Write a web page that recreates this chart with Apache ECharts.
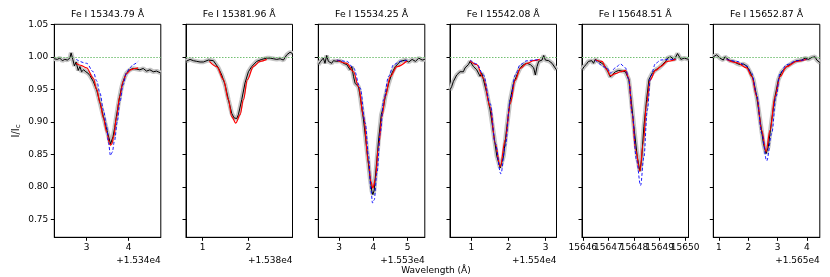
<!DOCTYPE html>
<html>
<head>
<meta charset="utf-8">
<script src="https://cdn.jsdelivr.net/npm/echarts@6/dist/echarts.min.js"></script>
<style>html,body{margin:0;padding:0;background:#fff}#c{width:830px;height:277px}</style>
</head>
<body>
<div id="c"></div>
<script>
const titles = ['Fe I 15343.79 Å','Fe I 15381.96 Å','Fe I 15534.25 Å','Fe I 15542.08 Å','Fe I 15648.51 Å','Fe I 15652.87 Å'];
const offsets = [15340, 15380, 15530, 15540, 15640, 15650];
const offsetTexts = ['+1.534e4','+1.538e4','+1.553e4','+1.554e4','','+1.565e4'];
const showOffsetInLabel = [false,false,false,false,true,false];
const xMins = [2.229, 0.634, 2.395, 0.424, 5.97, 0.806];
const xMaxs = [4.77, 2.965, 5.497, 3.29, 10.13, 4.445];
const xTicks = [[3,4],[1,2],[3,4,5],[1,2,3],[6,7,8,9,10],[1,2,3,4]];
const yTicks = [0.75,0.80,0.85,0.90,0.95,1.00,1.05];
const yMin = 0.7223, yMax = 1.05;

const obs1 = [[2.23,0.997],[2.30,0.996],[2.36,0.998],[2.42,0.994],[2.48,0.996],[2.54,0.995],[2.60,0.998],[2.63,1.006],[2.67,0.996],[2.71,0.986],[2.75,0.992],[2.80,0.979],[2.84,0.985],[2.88,0.977],[2.93,0.980],[2.98,0.977],[3.03,0.975],[3.08,0.971],[3.16,0.962],[3.24,0.949],[3.32,0.929],[3.40,0.908],[3.48,0.888],[3.53,0.876],[3.57,0.866],[3.60,0.869],[3.63,0.877],[3.67,0.891],[3.71,0.908],[3.75,0.924],[3.79,0.939],[3.83,0.952],[3.87,0.962],[3.91,0.969],[3.95,0.975],[4.03,0.980],[4.11,0.982],[4.19,0.981],[4.27,0.980],[4.35,0.982],[4.43,0.978],[4.51,0.980],[4.59,0.977],[4.67,0.978],[4.77,0.975]];
const red1 = [[2.75,0.990],[2.85,0.987],[3.00,0.983],[3.16,0.967],[3.24,0.950],[3.32,0.929],[3.40,0.906],[3.48,0.884],[3.55,0.866],[3.57,0.864],[3.60,0.866],[3.65,0.878],[3.71,0.906],[3.79,0.939],[3.87,0.962],[3.95,0.974],[4.05,0.980],[4.15,0.982],[4.23,0.983]];
const blue1 = [[2.75,0.996],[3.00,0.990],[3.16,0.977],[3.24,0.963],[3.32,0.944],[3.40,0.918],[3.48,0.893],[3.52,0.868],[3.57,0.848],[3.61,0.853],[3.67,0.872],[3.73,0.900],[3.79,0.929],[3.87,0.957],[3.95,0.975],[4.03,0.983],[4.11,0.988],[4.23,0.993]];

const obs2 = [[0.635,0.993],[0.723,0.996],[0.796,0.994],[0.869,0.993],[0.942,0.992],[1.015,0.992],[1.124,0.995],[1.161,0.992],[1.234,0.994],[1.270,0.991],[1.343,0.983],[1.416,0.972],[1.489,0.957],[1.562,0.934],[1.635,0.913],[1.686,0.906],[1.745,0.905],[1.781,0.911],[1.854,0.934],[1.927,0.960],[2.000,0.977],[2.073,0.985],[2.182,0.993],[2.292,0.996],[2.401,0.998],[2.474,0.998],[2.547,0.997],[2.620,0.996],[2.693,0.997],[2.766,0.995],[2.839,1.003],[2.912,1.007],[2.964,1.005]];
const red2 = [[1.146,0.993],[1.307,0.985],[1.453,0.965],[1.562,0.934],[1.635,0.908],[1.723,0.898],[1.818,0.911],[1.891,0.934],[1.978,0.965],[2.109,0.985],[2.255,0.993],[2.401,0.996]];
const blue2 = [];

const obs3 = [[2.395,0.988],[2.463,0.993],[2.541,0.998],[2.590,0.990],[2.639,1.002],[2.688,0.993],[2.737,0.996],[2.785,0.990],[2.834,0.994],[2.932,0.993],[3.029,0.994],[3.127,0.990],[3.224,0.988],[3.322,0.980],[3.371,0.985],[3.420,0.970],[3.468,0.959],[3.517,0.962],[3.566,0.954],[3.615,0.939],[3.712,0.903],[3.810,0.857],[3.907,0.811],[3.956,0.793],[3.985,0.788],[4.024,0.795],[4.083,0.831],[4.151,0.872],[4.229,0.911],[4.298,0.924],[4.346,0.939],[4.444,0.959],[4.541,0.975],[4.639,0.985],[4.785,0.993],[4.932,0.995],[5.029,0.992],[5.127,0.996],[5.224,0.993],[5.322,0.998],[5.420,0.995],[5.498,0.996]];
const red3 = [[2.932,0.995],[3.224,0.990],[3.420,0.977],[3.566,0.954],[3.712,0.908],[3.859,0.836],[3.927,0.808],[3.985,0.798],[4.054,0.811],[4.151,0.862],[4.249,0.908],[4.346,0.939],[4.493,0.970],[4.688,0.985],[4.980,0.994]];
const blue3 = [[2.932,0.995],[3.224,0.993],[3.420,0.983],[3.615,0.952],[3.761,0.898],[3.859,0.847],[3.927,0.795],[3.976,0.775],[4.024,0.780],[4.102,0.821],[4.200,0.883],[4.298,0.934],[4.444,0.970],[4.590,0.988],[4.785,0.993],[4.980,0.995]];

const obs4 = [[0.423,0.949],[0.468,0.954],[0.514,0.962],[0.604,0.972],[0.694,0.977],[0.739,0.980],[0.784,0.977],[0.829,0.983],[0.874,0.980],[0.919,0.988],[0.964,0.993],[1.009,0.990],[1.054,0.985],[1.099,0.988],[1.144,0.980],[1.189,0.983],[1.234,0.970],[1.279,0.975],[1.324,0.965],[1.414,0.944],[1.505,0.918],[1.595,0.883],[1.685,0.847],[1.775,0.829],[1.820,0.831],[1.865,0.847],[1.955,0.893],[2.045,0.934],[2.135,0.959],[2.225,0.972],[2.315,0.983],[2.405,0.988],[2.495,0.990],[2.586,0.988],[2.676,0.983],[2.721,0.972],[2.766,0.985],[2.811,0.993],[2.901,0.995],[2.946,1.002],[2.991,0.995],[3.081,0.994],[3.171,0.990],[3.288,0.980]];
const red4 = [[0.964,0.994],[1.144,0.988],[1.324,0.967],[1.505,0.923],[1.640,0.867],[1.775,0.831],[1.910,0.872],[2.045,0.928],[2.180,0.964],[2.315,0.982],[2.495,0.990],[2.676,0.994],[2.838,0.996]];
const blue4 = [[0.964,0.995],[1.144,0.989],[1.324,0.972],[1.505,0.928],[1.640,0.867],[1.793,0.820],[1.910,0.862],[2.045,0.934],[2.180,0.972],[2.315,0.988],[2.495,0.994],[2.676,0.995],[2.838,0.996]];

const obs5 = [[5.974,0.980],[6.052,0.985],[6.131,0.988],[6.223,0.993],[6.289,0.990],[6.354,0.994],[6.420,0.990],[6.486,0.996],[6.551,0.995],[6.617,0.993],[6.748,0.990],[6.879,0.985],[7.010,0.975],[7.076,0.969],[7.142,0.972],[7.273,0.977],[7.404,0.979],[7.535,0.978],[7.667,0.977],[7.798,0.965],[7.890,0.934],[7.995,0.893],[8.126,0.847],[8.231,0.824],[8.297,0.842],[8.388,0.893],[8.493,0.934],[8.585,0.965],[8.717,0.975],[8.848,0.980],[8.979,0.983],[9.110,0.988],[9.241,0.993],[9.307,0.998],[9.438,1.000],[9.570,0.995],[9.701,1.005],[9.832,0.996],[9.963,0.998],[10.134,0.996]];
const red5 = [[6.486,0.995],[6.748,0.993],[6.945,0.980],[7.076,0.971],[7.273,0.974],[7.470,0.977],[7.667,0.979],[7.798,0.967],[7.929,0.913],[8.060,0.857],[8.231,0.824],[8.362,0.867],[8.493,0.928],[8.625,0.964],[8.848,0.979],[9.045,0.985],[9.307,0.993],[9.635,0.996]];
const blue5 = [[6.486,0.995],[6.945,0.983],[7.076,0.975],[7.273,0.983],[7.470,0.989],[7.667,0.983],[7.798,0.965],[7.929,0.913],[8.100,0.841],[8.257,0.802],[8.388,0.846],[8.520,0.918],[8.651,0.970],[8.848,0.990],[9.045,0.995],[9.307,0.996],[9.635,0.996]];

const obs6 = [[0.806,1.000],[0.920,1.003],[1.034,0.998],[1.091,0.996],[1.148,0.995],[1.205,1.000],[1.262,0.998],[1.376,0.994],[1.490,0.993],[1.604,0.990],[1.718,0.988],[1.832,0.989],[1.946,0.986],[2.003,0.983],[2.060,0.977],[2.174,0.965],[2.288,0.939],[2.403,0.903],[2.517,0.867],[2.608,0.851],[2.688,0.862],[2.802,0.903],[2.916,0.939],[3.030,0.965],[3.144,0.977],[3.315,0.985],[3.486,0.990],[3.657,0.994],[3.828,0.995],[3.942,0.998],[4.056,0.996],[4.170,0.999],[4.284,1.000],[4.341,0.995],[4.455,0.991]];
const red6 = [[1.262,0.996],[1.604,0.991],[1.946,0.983],[2.117,0.970],[2.288,0.939],[2.460,0.887],[2.608,0.854],[2.745,0.887],[2.916,0.939],[3.087,0.970],[3.315,0.985],[3.657,0.993],[3.999,0.996]];
const blue6 = [[1.262,0.996],[1.604,0.993],[1.946,0.986],[2.117,0.975],[2.288,0.942],[2.460,0.882],[2.631,0.840],[2.802,0.882],[2.950,0.939],[3.087,0.975],[3.315,0.988],[3.657,0.994],[3.999,0.996]];

const obsAll = [obs1, obs2, obs3, obs4, obs5, obs6];
const redAll = [red1, red2, red3, red4, red5, red6];
const blueAll = [blue1, blue2, blue3, blue4, blue5, blue6];

const FONT = 'DejaVu Sans';
const gridLefts = [54.3, 186, 318.3, 450, 582, 713.3];
const gridW = 106.5, gridTop = 24.3, gridH = 213;

function xLabel(i, ticks, showLine) {
  const off = offsets[i];
  const lab = showOffsetInLabel[i];
  return {
    type: 'value', gridIndex: i, min: xMins[i], max: xMaxs[i], position: 'bottom', offset: 0,
    axisLine: {show: showLine, onZero: false, lineStyle: {color: '#000', width: 1}},
    axisTick: {show: showLine, length: 3.5, lineStyle: {color: '#000'}, customValues: xTicks[i]},
    axisLabel: {show: true, color: '#000', fontFamily: FONT, fontSize: 9, margin: 6, customValues: ticks,
      hideOverlap: false, showMinLabel: true, showMaxLabel: true,
      formatter: v => lab ? String(Math.round(v + off)) : String(Math.round(v))},
    splitLine: {show: false}
  };
}

const grids = [], xAxes = [], yAxes = [], series = [], graphics = [];
for (let i = 0; i < 6; i++) {
  grids.push({left: gridLefts[i], top: gridTop, width: gridW, height: gridH, show: true, borderColor: '#000', borderWidth: 1, containLabel: false});
  // labels that would overlap are split between two axes so every tick keeps its label
  xAxes.push(xLabel(i, xTicks[i].filter((t, k) => k % 2 === 0), true));
  yAxes.push({
    type: 'value', gridIndex: i, min: yMin, max: yMax,
    axisLine: {show: true, onZero: false, lineStyle: {color: '#000', width: 1}},
    axisTick: {show: true, length: 3.5, lineStyle: {color: '#000'}, customValues: yTicks},
    axisLabel: {show: i === 0, color: '#000', fontFamily: FONT, fontSize: 9, margin: 6, customValues: yTicks,
      showMinLabel: true, showMaxLabel: true, formatter: v => v.toFixed(2)},
    splitLine: {show: false}
  });
  series.push({
    type: 'line', xAxisIndex: i, yAxisIndex: i, data: obsAll[i], symbol: 'none', z: 1,
    lineStyle: {color: '#c4c4c4', width: 4.5},
    markLine: {silent: true, symbol: 'none', label: {show: false}, animation: false,
      lineStyle: {color: '#72c072', type: [1.5, 1.5], width: 1.1}, data: [{yAxis: 1}]}
  });
  series.push({
    type: 'line', xAxisIndex: i, yAxisIndex: i, data: obsAll[i], symbol: 'none', z: 2,
    lineStyle: {color: '#000', width: 1}
  });
  series.push({
    type: 'line', xAxisIndex: i, yAxisIndex: i, data: redAll[i], symbol: 'none', z: 3,
    smooth: 0.35, smoothMonotone: 'x',
    lineStyle: {color: '#ff0000', width: 1.2}
  });
  if (blueAll[i].length) {
    series.push({
      type: 'line', xAxisIndex: i, yAxisIndex: i, data: blueAll[i], symbol: 'none', z: 4,
      smooth: 0.35, smoothMonotone: 'x',
      lineStyle: {color: '#0000ff', width: 0.9, type: [3, 2]}
    });
  }
  graphics.push({type: 'text', x: gridLefts[i] + gridW / 2, y: 15, style: {text: titles[i], fontFamily: FONT, fontSize: 9.3, fill: '#000', align: 'center', verticalAlign: 'middle'}});
  if (offsetTexts[i]) {
    graphics.push({type: 'text', x: gridLefts[i] + gridW, y: 261, style: {text: offsetTexts[i], fontFamily: FONT, fontSize: 9, fill: '#000', align: 'right', verticalAlign: 'middle'}});
  }
}
for (let i = 0; i < 6; i++) {
  const odd = xTicks[i].filter((t, k) => k % 2 === 1);
  if (odd.length) xAxes.push(xLabel(i, odd, false));
}
graphics.push({type: 'text', x: 436, y: 270.5, style: {text: 'Wavelength (Å)', fontFamily: FONT, fontSize: 9, fill: '#000', align: 'center', verticalAlign: 'middle'}});
graphics.push({type: 'text', x: 16, y: 131, rotation: Math.PI / 2,
  style: {text: 'I/I{s|c}', fontFamily: FONT, fontSize: 10, fill: '#000', align: 'center', verticalAlign: 'middle',
    rich: {s: {fontFamily: FONT, fontSize: 7, fill: '#000', padding: [5, 0, 0, 0]}}}});

const chart = echarts.init(document.getElementById('c'), null, {renderer: 'canvas'});
chart.setOption({
  animation: false,
  grid: grids, xAxis: xAxes, yAxis: yAxes, series: series, graphic: graphics
});
</script>
</body>
</html>
